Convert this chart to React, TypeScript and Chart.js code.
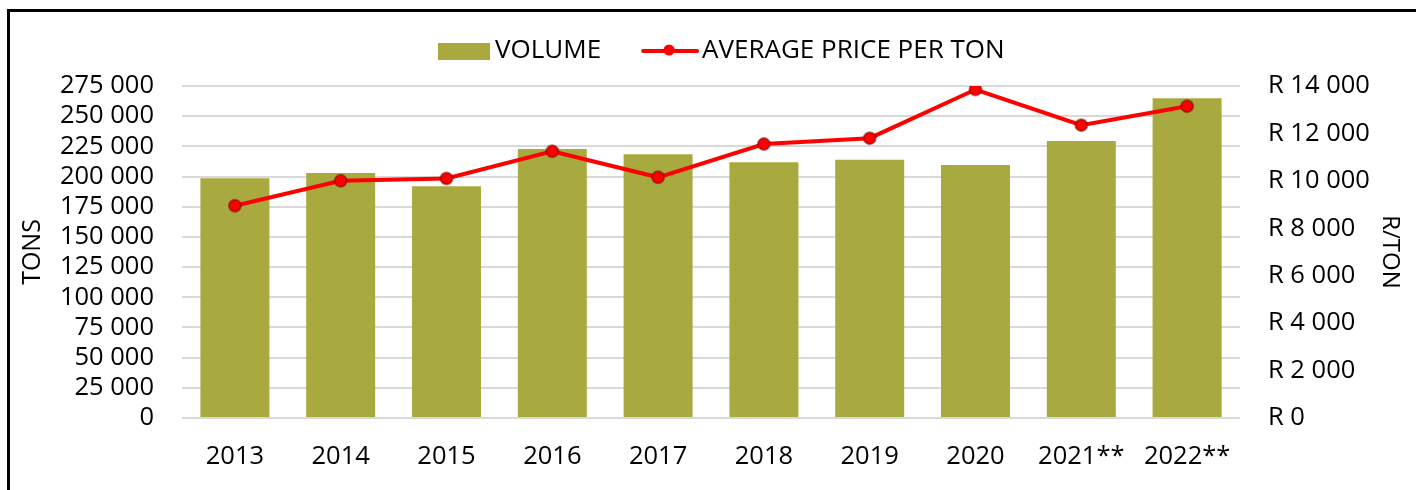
import React, { useEffect, useRef } from "react";
import { Chart, registerables } from "chart.js";

Chart.register(...registerables);

const years = ["2013", "2014", "2015", "2016", "2017", "2018", "2019", "2020", "2021**", "2022**"];
const volumeTons = [198500, 202900, 191900, 222800, 218400, 211800, 214000, 209600, 229400, 264800];
const pricePerTon = [8950, 10000, 10100, 11250, 10150, 11550, 11800, 13850, 12350, 13150];
const volumeLabel = "VOLUME";
const priceLabel = "AVERAGE PRICE PER TON";

const FONT = "'Open Sans', 'Liberation Sans', sans-serif";
const TICK_SIZE = 25.5;
const BAR_COLOR = "#A8A93F";
const LINE_COLOR = "#FF0000";
const GRID_COLOR = "#D9D9D9";

const fmt = (v: number) => String(Math.round(v)).replace(/\B(?=(\d{3})+(?!\d))/g, " ");

const legendPlugin = {
  id: "customLegend",
  afterDraw(chart: any) {
    const ctx = chart.ctx;
    const ds = chart.data.datasets;
    ctx.save();
    ctx.font = `26px ${FONT}`;
    ctx.textBaseline = "middle";
    const y = 51;
    let x = 438;
    ctx.fillStyle = BAR_COLOR;
    ctx.fillRect(x, y - 8, 52, 17);
    x += 57;
    ctx.fillStyle = "#000";
    ctx.textAlign = "left";
    ctx.fillText(ds[0].label, x, y);
    x += ctx.measureText(ds[0].label).width + 42;
    ctx.strokeStyle = LINE_COLOR;
    ctx.lineWidth = 4;
    ctx.lineCap = "round";
    ctx.beginPath();
    ctx.moveTo(x, y);
    ctx.lineTo(x + 54, y);
    ctx.stroke();
    ctx.beginPath();
    ctx.fillStyle = LINE_COLOR;
    ctx.arc(x + 26, y - 1, 5.5, 0, Math.PI * 2);
    ctx.fill();
    x += 59;
    ctx.fillStyle = "#000";
    ctx.fillText(ds[1].label, x, y);
    ctx.restore();
  },
};

export default function App() {
  const ref = useRef<HTMLCanvasElement | null>(null);

  useEffect(() => {
    if (!ref.current) return;
    const chart = new Chart(ref.current, {
      type: "bar",
      data: {
        labels: years,
        datasets: [
          {
            type: "bar",
            label: volumeLabel,
            data: volumeTons,
            backgroundColor: BAR_COLOR,
            yAxisID: "y",
            categoryPercentage: 1,
            barPercentage: 0.652,
            order: 2,
          },
          {
            type: "line",
            label: priceLabel,
            data: pricePerTon,
            borderColor: LINE_COLOR,
            backgroundColor: LINE_COLOR,
            borderWidth: 4,
            pointRadius: 6,
            pointBackgroundColor: LINE_COLOR,
            pointBorderColor: "rgba(120,0,0,0.5)",
            pointBorderWidth: 2,
            tension: 0,
            yAxisID: "y1",
            order: 1,
          },
        ] as any,
      },
      plugins: [legendPlugin],
      options: {
        responsive: false,
        animation: false,
        devicePixelRatio: 1,
        layout: { padding: { top: 86, left: 8, right: 4, bottom: 0 } },
        plugins: {
          legend: { display: false },
          tooltip: { enabled: false },
        },
        scales: {
          x: {
            grid: { display: false },
            border: { display: false },
            ticks: {
              color: "#000",
              font: { family: FONT, size: TICK_SIZE },
              padding: 15,
              maxRotation: 0,
              autoSkip: false,
            },
            afterFit: (scale: any) => {
              scale.height = 72;
            },
          },
          y: {
            position: "left",
            min: 0,
            max: 275000,
            grid: { color: GRID_COLOR, lineWidth: 2, drawTicks: false },
            border: { display: false },
            ticks: {
              stepSize: 25000,
              autoSkip: false,
              color: "#000",
              font: { family: FONT, size: TICK_SIZE },
              padding: 28,
              callback: (v: any) => fmt(Number(v)),
            },
            title: {
              display: true,
              text: "TONS",
              color: "#000",
              font: { family: FONT, size: 25 },
              padding: { top: 10, bottom: 0 },
            },
            afterFit: (scale: any) => {
              scale.width = 174;
            },
          },
          y1: {
            position: "right",
            min: 0,
            max: 14000,
            grid: { display: false, drawTicks: false },
            border: { display: false },
            ticks: {
              stepSize: 2000,
              autoSkip: false,
              color: "#000",
              font: { family: FONT, size: TICK_SIZE },
              padding: 28,
              callback: (v: any) => "R " + fmt(Number(v)),
            },
            title: {
              display: true,
              text: "R/TON",
              color: "#000",
              font: { family: FONT, size: 24 },
              padding: { top: 8, bottom: 0 },
            },
            afterFit: (scale: any) => {
              scale.width = 172;
            },
          },
        },
      } as any,
    });
    return () => chart.destroy();
  }, []);

  return (
    <div>
      <div
        style={{
          position: "fixed",
          left: 7,
          top: 9,
          width: 1409,
          height: 481,
          borderTop: "3px solid #000",
          borderLeft: "3px solid #000",
          boxSizing: "border-box",
        }}
      />
      <canvas
        ref={ref}
        width={1416}
        height={490}
        style={{ position: "fixed", left: 0, top: 0, width: 1416, height: 490 }}
      />
    </div>
  );
}
